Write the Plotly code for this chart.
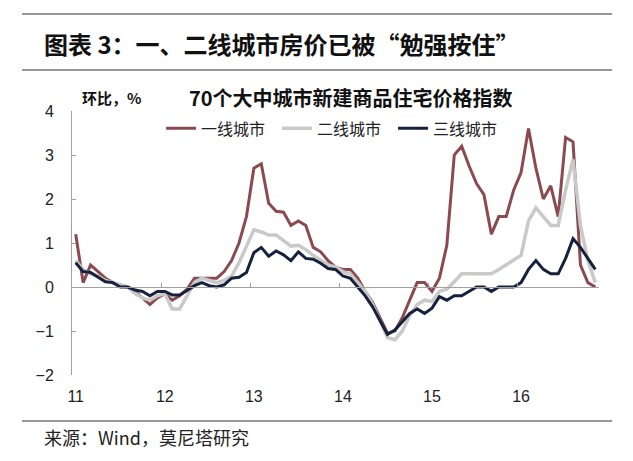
import plotly.graph_objects as go

# Months: Feb 2011 .. Dec 2016 (71 monthly observations)
months = [f"{y}-{m:02d}" for y in range(2011, 2017) for m in range(1, 13)][1:]
year_labels = ["11", "12", "13", "14", "15", "16"]

tier1 = [1.2, 0.1, 0.5, 0.35, 0.2, 0.1, 0.05, 0.0, -0.1, -0.25, -0.4, -0.25,
         -0.15, -0.3, -0.2, -0.05, 0.2, 0.2, 0.2, 0.2, 0.35, 0.6, 1.0, 1.6,
         2.7, 2.8, 1.9, 1.72, 1.7, 1.4, 1.5, 1.4, 0.9, 0.8, 0.6, 0.45,
         0.4, 0.4, 0.2, -0.1, -0.35, -0.7, -1.05, -1.0, -0.7, -0.3, 0.1, 0.1,
         -0.1, 0.2, 0.95, 3.0, 3.2, 2.75, 2.35, 2.1, 1.2, 1.6, 1.6, 2.2,
         2.6, 3.6, 2.7, 2.0, 2.3, 1.6, 3.4, 3.3, 0.5, 0.1, 0.0]
tier2 = [0.6, 0.4, 0.3, 0.25, 0.15, 0.1, 0.05, 0.0, -0.15, -0.25, -0.3, -0.2,
         -0.15, -0.5, -0.5, -0.2, 0.1, 0.2, 0.15, 0.1, 0.15, 0.25, 0.55, 0.95,
         1.3, 1.25, 1.18, 1.18, 1.05, 0.93, 0.95, 0.85, 0.72, 0.6, 0.5, 0.45,
         0.35, 0.3, 0.1, -0.1, -0.4, -0.8, -1.15, -1.2, -1.0, -0.65, -0.4, -0.3,
         -0.33, -0.1, -0.05, 0.12, 0.3, 0.3, 0.3, 0.3, 0.3, 0.4, 0.5, 0.6,
         0.72, 1.5, 1.8, 1.6, 1.4, 1.4, 2.2, 2.9, 1.4, 0.6, 0.1]
tier3 = [0.55, 0.35, 0.33, 0.23, 0.12, 0.1, 0.0, 0.0, -0.07, -0.1, -0.2, -0.1,
         -0.1, -0.18, -0.18, -0.08, 0.03, 0.1, 0.03, 0.0, 0.05, 0.2, 0.22, 0.33,
         0.78, 0.9, 0.7, 0.82, 0.73, 0.6, 0.8, 0.65, 0.63, 0.54, 0.42, 0.4,
         0.25, 0.2, 0.0, -0.2, -0.45, -0.75, -1.08, -0.98, -0.8, -0.6, -0.5, -0.6,
         -0.48, -0.22, -0.3, -0.2, -0.2, -0.1, 0.0, 0.0, -0.1, 0.0, 0.0, 0.0,
         0.1, 0.4, 0.6, 0.4, 0.3, 0.3, 0.65, 1.1, 0.9, 0.65, 0.4]

names = ["一线城市", "二线城市", "三线城市"]
colors = ["#8a4a50", "#c9c9c9", "#16213d"]
widths = [3, 3.5, 3]

idx = list(range(len(months)))
CJK = "Noto Sans CJK SC"
LAT = "Liberation Sans"

fig = go.Figure()
for name, vals, c, w in zip(names, [tier1, tier2, tier3], colors, widths):
    fig.add_trace(go.Scatter(x=idx, y=vals, name=name, mode="lines",
                             line=dict(color=c, width=w), customdata=months,
                             hovertemplate="%{customdata}: %{y}<extra></extra>"))
# invisible helper trace so the zero-line axis is drawn
fig.add_trace(go.Scatter(x=idx, y=tier3, xaxis="x2", mode="lines", opacity=0,
                         showlegend=False, hoverinfo="skip"))

label_pos = [i for i, m in enumerate(months) if m.endswith("-02")]
tick_pos = [i - 0.5 for i in label_pos[1:]]

fig.update_layout(
    width=633, height=461,
    margin=dict(l=72, r=34, t=111, b=86),
    paper_bgcolor="white", plot_bgcolor="white",
    showlegend=True,
    legend=dict(orientation="h", x=0.169, xanchor="left", y=0.934, yanchor="middle",
                font=dict(family=CJK, size=16, color="#222"),
                bgcolor="rgba(0,0,0,0)", entrywidth=71, entrywidthmode="pixels",
                tracegroupgap=0),
    xaxis=dict(range=[-0.5, 70.5], showgrid=False, zeroline=False, showline=False,
               tickmode="array", tickvals=label_pos, ticktext=year_labels, ticks="",
               ticklabelstandoff=10,
               tickfont=dict(family=LAT, size=16, color="#222")),
    xaxis2=dict(overlaying="x", matches="x", anchor="free", position=1/3,
                showgrid=False, zeroline=False, showline=True, linecolor="#a0a0a0",
                linewidth=1, tickmode="array", tickvals=tick_pos, ticks="inside",
                ticklen=4, tickcolor="#a0a0a0", showticklabels=False),
    yaxis=dict(range=[-2, 4], dtick=1, showgrid=False, zeroline=False, showline=True,
               linecolor="#a0a0a0", linewidth=1, ticks="inside", ticklen=4,
               tickcolor="#a0a0a0", ticklabelstandoff=14,
               tickfont=dict(family=LAT, size=16, color="#222")),
)

def px_x(x):
    return (x - 72) / 526.8

def px_y(y):
    return 1 - (y - 111) / 264

for y in (14, 70, 421):
    fig.add_shape(type="line", xref="paper", yref="paper",
                  x0=px_x(22), x1=px_x(612), y0=px_y(y), y1=px_y(y),
                  line=dict(color="#333", width=1.2))

fig.add_annotation(text="图表 3：一、二线城市房价已被“勉强按住”", xref="paper", yref="paper",
                   x=px_x(42), y=px_y(43), xanchor="left", yanchor="middle",
                   showarrow=False, font=dict(family=CJK, size=24, color="#111", weight="bold"))
fig.add_annotation(text="环比，%", xref="paper", yref="paper",
                   x=px_x(80), y=px_y(97), xanchor="left", yanchor="middle",
                   showarrow=False, font=dict(family=CJK, size=15, color="#111", weight="bold"))
fig.add_annotation(text="70个大中城市新建商品住宅价格指数", xref="paper", yref="paper",
                   x=px_x(187), y=px_y(97), xanchor="left", yanchor="middle",
                   showarrow=False, font=dict(family=CJK, size=20, color="#111", weight="bold"))
fig.add_annotation(text="来源：Wind，莫尼塔研究", xref="paper", yref="paper",
                   x=px_x(42), y=px_y(437), xanchor="left", yanchor="middle",
                   showarrow=False, font=dict(family=CJK, size=18, color="#222"))

fig.write_html("out.html", config={"displayModeBar": False},
               post_script="document.body.style.margin='0px';")
